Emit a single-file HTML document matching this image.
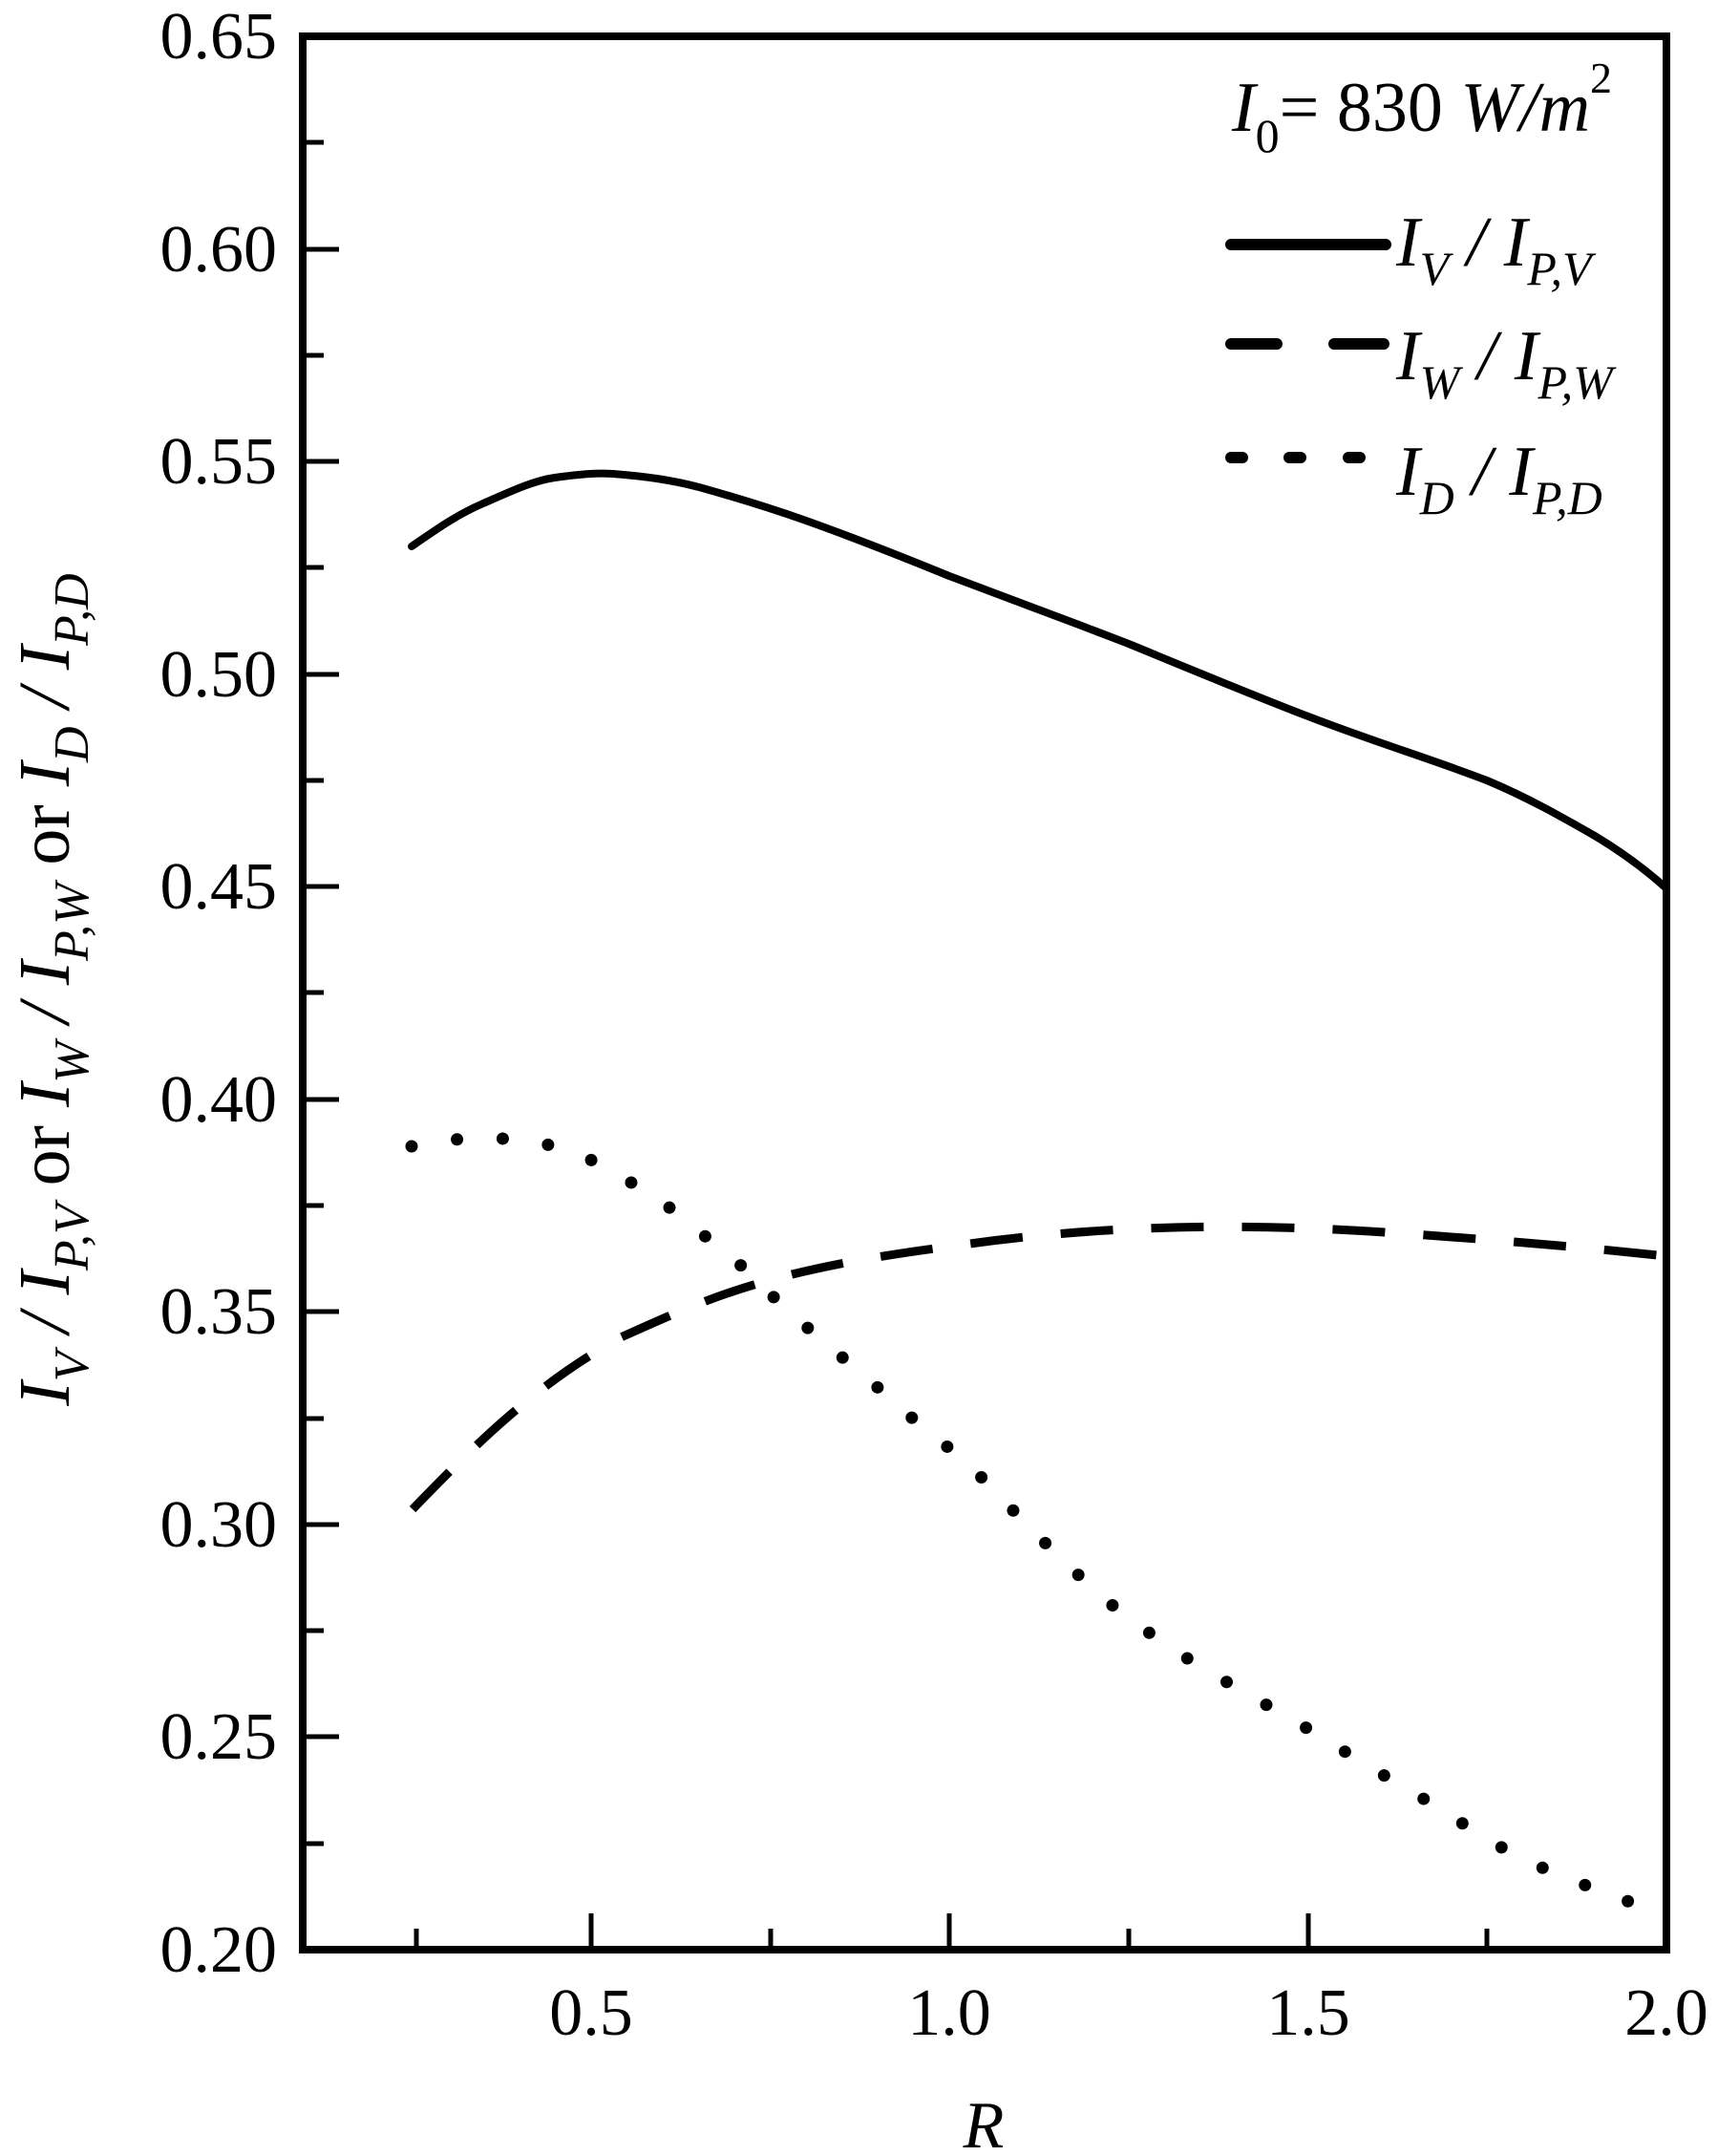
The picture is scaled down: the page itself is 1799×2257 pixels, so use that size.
<!DOCTYPE html>
<html><head><meta charset="utf-8"><style>body{margin:0;background:#fff}svg{display:block}</style></head>
<body>
<svg width="1799" height="2257" viewBox="0 0 1799 2257" xmlns="http://www.w3.org/2000/svg" font-family="Liberation Serif, serif">
<g stroke="#000" stroke-width="5" fill="none">
<path d="M436,2041v-22M619,2041v-38M807,2041v-22M994,2041v-38M1182,2041v-22M1370,2041v-38M1557,2041v-22"/>
<path d="M317,1930h22M317,1818h38M317,1707h22M317,1596h38M317,1485h22M317,1373h38M317,1262h22M317,1151h38M317,1039h22M317,928h38M317,817h22M317,706h38M317,594h22M317,483h38M317,372h22M317,261h38M317,149h22"/>
</g>
<rect x="317" y="38" width="1428" height="2003" fill="none" stroke="#000" stroke-width="8"/>
<g font-size="70" text-anchor="end">
<text x="290" y="2064">0.20</text><text x="290" y="1841">0.25</text><text x="290" y="1619">0.30</text><text x="290" y="1396">0.35</text><text x="290" y="1174">0.40</text><text x="290" y="951">0.45</text><text x="290" y="729">0.50</text><text x="290" y="506">0.55</text><text x="290" y="284">0.60</text><text x="290" y="61">0.65</text>
</g>
<g font-size="70" text-anchor="middle">
<text x="619" y="2130">0.5</text><text x="994" y="2130">1.0</text><text x="1370" y="2130">1.5</text><text x="1745" y="2130">2.0</text>
<text x="1030" y="2248" font-style="italic">R</text>
</g>
<g fill="none" stroke="#000" stroke-width="8" stroke-linecap="round" stroke-linejoin="round">
<path d="M431,572 C460,552 480,538 506,527 C540,512 560,503 581,500 C610,496 625,495 642,496 C680,499 705,503 732,510 C775,522 810,533 844,545 C900,565 950,585 994,603 C1060,628 1120,650 1182,674 C1250,702 1310,727 1370,750 C1440,777 1500,795 1557,817 C1600,835 1635,855 1670,875 C1700,893 1725,912 1745,930"/>
<path d="M432,1580 C500,1510 560,1450 650,1400 C740,1360 800,1330 994,1305 C1150,1282 1300,1280 1450,1290 C1600,1300 1700,1310 1745,1315" stroke-dasharray="55 40" stroke-linecap="butt" stroke-width="9"/>
<path d="M431,1200 C470,1193 500,1190 506,1191 C540,1192 560,1195 581,1200 C620,1212 640,1225 656,1235 C690,1255 710,1270 732,1289 C770,1320 790,1335 807,1355 C850,1395 875,1415 900,1436 C940,1470 965,1495 994,1516 C1030,1545 1060,1582 1088,1609 C1120,1640 1150,1670 1182,1694 C1215,1718 1245,1738 1276,1756 C1310,1775 1340,1793 1370,1810 C1400,1828 1430,1848 1464,1867 C1495,1885 1525,1905 1557,1925 C1590,1945 1620,1958 1651,1970 C1690,1985 1720,1996 1745,2005" stroke-dasharray="0 48" stroke-width="13"/>
</g>
<g font-size="74" font-style="italic">
<text x="1290" y="137">I<tspan font-size="50" font-style="normal" dy="22">0</tspan><tspan dy="-22" font-style="normal">= 830 </tspan>W/m<tspan font-size="46" font-style="normal" dy="-40">2</tspan></text>
<text x="1462" y="278">I<tspan font-size="50" dy="20">V</tspan><tspan dy="-20"> / I</tspan><tspan font-size="50" dy="20">P,V</tspan></text>
<text x="1462" y="397">I<tspan font-size="50" dy="20">W</tspan><tspan dy="-20"> / I</tspan><tspan font-size="50" dy="20">P,W</tspan></text>
<text x="1462" y="518">I<tspan font-size="50" dy="20">D</tspan><tspan dy="-20"> / I</tspan><tspan font-size="50" dy="20">P,D</tspan></text>
</g>
<g stroke="#000" stroke-width="12" stroke-linecap="round">
<path d="M1289,256h162"/>
<path d="M1289,360h48M1397,360h52"/>
<path d="M1289,479h12M1350,479h12M1412,479h12"/>
</g>
<text transform="translate(72,1036) rotate(-90)" text-anchor="middle" font-size="76" font-style="italic">I<tspan font-size="52" dy="20">V</tspan><tspan dy="-20"> / I</tspan><tspan font-size="52" dy="20">P,V</tspan><tspan dy="-20" font-style="normal"> or </tspan>I<tspan font-size="52" dy="20">W</tspan><tspan dy="-20"> / I</tspan><tspan font-size="52" dy="20">P,W</tspan><tspan dy="-20" font-style="normal"> or </tspan>I<tspan font-size="52" dy="20">D</tspan><tspan dy="-20"> / I</tspan><tspan font-size="52" dy="20">P,D</tspan></text>
</svg>
</body></html>
